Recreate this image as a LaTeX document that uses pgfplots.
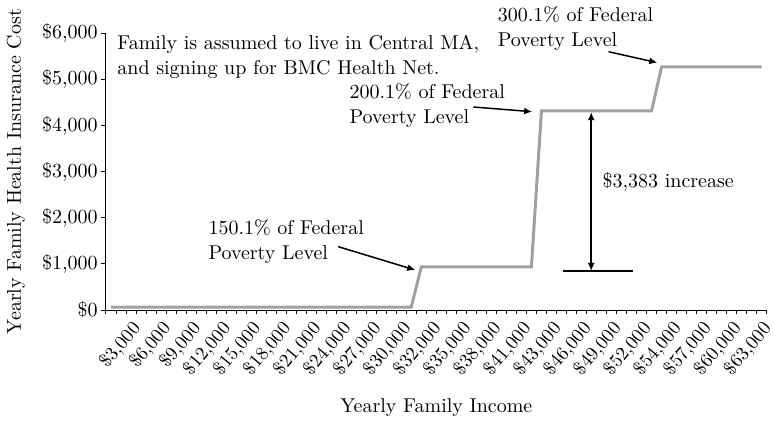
\documentclass[border=0pt]{standalone}
\usepackage{pgfplots}
\pgfplotsset{compat=1.18}
\usetikzlibrary{arrows.meta}
\definecolor{stepgray}{RGB}{160,160,160}
\begin{document}
\begin{tikzpicture}[font=\fontsize{10bp}{12.5bp}\selectfont]
\begin{axis}[
  scale only axis, width=330.35bp, height=138.35bp,
  xmin=-0.5, xmax=65.5, ymin=0, ymax=6000,
  axis lines*=left,
  axis line style={line width=0.5bp},
  clip=false,
  tick align=outside,
  xtick={2,5,...,65},
  xticklabels={{\$3,000},{\$6,000},{\$9,000},{\$12,000},{\$15,000},{\$18,000},{\$21,000},{\$24,000},{\$27,000},{\$30,000},{\$32,000},{\$35,000},{\$38,000},{\$41,000},{\$43,000},{\$46,000},{\$49,000},{\$52,000},{\$54,000},{\$57,000},{\$60,000},{\$63,000}},
  minor xtick={-0.5,0.5,...,65.5},
  minor tick length=1.8bp,
  major tick length=2.5bp,
  every tick/.style={black, line width=0.5bp},
  every major x tick/.append style={draw=none},
  ytick={0,1000,...,6000},
  yticklabels={{\$0},{\$1,000},{\$2,000},{\$3,000},{\$4,000},{\$5,000},{\$6,000}},
  xticklabel style={xshift=3.5bp, yshift=-4.5bp, rotate=50, anchor=east, inner sep=0.5bp, font=\fontsize{9.5bp}{11bp}\selectfont},
  yticklabel style={inner sep=1.5bp},
  xlabel={Yearly Family Income},
  ylabel={Yearly Family Health Insurance Cost},
  xlabel style={at={(axis description cs:0.5,0)}, anchor=center, yshift=-49bp},
  ylabel style={at={(axis description cs:0,0.5)}, anchor=center, rotate=0, yshift=45bp},
]
\addplot[stepgray, line width=1.5bp, no markers] coordinates {
  (0,65) (30,65) (31,936) (42,936) (43,4319) (54,4319) (55,5270) (65,5270)
};
\coordinate (O) at (axis cs:-0.5,0);
\node[anchor=west, align=left, inner sep=0] at (axis cs:0.6,5497)
  {Family is assumed to live in Central MA,\\and signing up for BMC Health Net.};
\node[anchor=west, align=left, inner sep=0] at (axis cs:9.7,1485)
  {150.1\% of Federal\\Poverty Level};
\node[anchor=west, align=left, inner sep=0] at (axis cs:23.8,4434)
  {200.1\% of Federal\\Poverty Level};
\node[anchor=west, align=left, inner sep=0] at (axis cs:38.6,6093)
  {300.1\% of Federal\\Poverty Level};
\node[anchor=west, inner sep=0] at (axis cs:49.07,2782) {\$3,383 increase};
\draw[line width=0.75bp, -{Latex[length=4bp,width=3.5bp]}] (axis cs:22.7,1373) -- (axis cs:30.4,867);
\draw[line width=0.75bp, -{Latex[length=4bp,width=3.5bp]}] (axis cs:36.2,4402) -- (axis cs:42.07,4300);
\draw[line width=0.75bp, -{Latex[length=4bp,width=3.5bp]}] (axis cs:49.7,5601) -- (axis cs:54.57,5363);
\draw[line width=0.75bp, {Latex[length=4bp,width=3.5bp]}-{Latex[length=4bp,width=3.5bp]}] (axis cs:47.97,4290) -- (axis cs:47.97,846);
\draw[line width=0.75bp] (axis cs:45.17,846) -- (axis cs:52.13,846);
\end{axis}
\pgfresetboundingbox
\path[use as bounding box] (O) ++(-53bp,-58bp) rectangle ++(387bp,213bp);
\end{tikzpicture}
\end{document}
